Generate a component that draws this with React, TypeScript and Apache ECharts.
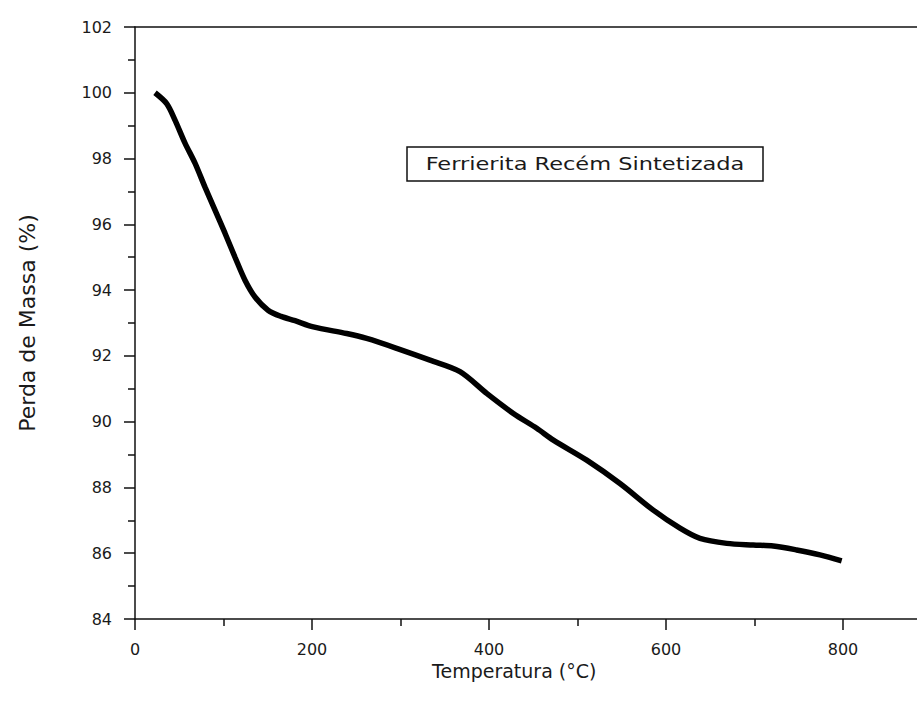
import React, { useEffect, useRef } from "react";
import * as echarts from "echarts";

const temperature = [22.6, 35.8, 45.2, 56.5, 67.8, 79.1, 90.4, 101.7, 113, 124.3, 135.6, 150.3, 165, 180.8, 201.5, 239.2, 261.8, 295.7, 333.3, 367.2, 397.4, 427.5, 453.9, 472.7, 510.4, 548, 585.6, 615.8, 638.4, 668.6, 698.6, 721.2, 747.6, 774, 798.5];
const massLoss = [100.0, 99.67, 99.17, 98.47, 97.86, 97.13, 96.43, 95.73, 95.0, 94.3, 93.79, 93.39, 93.2, 93.07, 92.88, 92.68, 92.53, 92.23, 91.87, 91.52, 90.86, 90.25, 89.8, 89.44, 88.83, 88.12, 87.31, 86.76, 86.45, 86.3, 86.25, 86.22, 86.1, 85.95, 85.77];
const xTicks = [0, 200, 400, 600, 800];
const yTicks = [84, 86, 88, 90, 92, 94, 96, 98, 100, 102];
const annotation = "Ferrierita Recém Sintetizada";
const xTitle = "Temperatura (°C)";
const yTitle = "Perda de Massa (%)";

export default function App() {
  const ref = useRef<HTMLDivElement>(null);
  useEffect(() => {
    if (!ref.current) return;
    const chart = echarts.init(ref.current, null, { renderer: "svg" });
    const axisColor = "#111";
    const labelStyle = { color: "#1a1a1a", fontFamily: "DejaVu Sans", fontSize: 16 };
    chart.setOption({
      animation: false,
      backgroundColor: "#fff",
      grid: { left: 135, top: 27, width: 796.5, height: 592, outerBoundsMode: "none", containLabel: false },
      xAxis: [
        {
          type: "value",
          min: 0,
          max: 900,
          interval: 200,
          position: "bottom",
          axisLine: { show: true, lineStyle: { color: axisColor, width: 1.5 } },
          axisTick: { show: true, length: 11, lineStyle: { color: axisColor, width: 1.5 } },
          minorTick: { show: true, splitNumber: 2, length: 7, lineStyle: { color: axisColor, width: 1.5 } },
          splitLine: { show: false },
          axisLabel: {
            ...labelStyle,
            margin: 22,
            formatter: (v: number) => (xTicks.includes(v) ? String(v) : ""),
          },
          name: xTitle,
          nameLocation: "middle",
          nameGap: 42,
          nameTextStyle: { color: "#1a1a1a", fontFamily: "DejaVu Sans", fontSize: 19, padding: [0, 38, 0, 0] },
        },
        {
          type: "value",
          min: 0,
          max: 900,
          position: "top",
          axisLine: { show: true, lineStyle: { color: axisColor, width: 1.5 } },
          axisTick: { show: false },
          axisLabel: { show: false },
          splitLine: { show: false },
        },
      ],
      yAxis: {
        type: "value",
        min: 84,
        max: 102,
        interval: 2,
        axisLine: { show: true, lineStyle: { color: axisColor, width: 1.5 } },
        axisTick: { show: true, length: 11, lineStyle: { color: axisColor, width: 1.5 } },
        minorTick: { show: true, splitNumber: 2, length: 7, lineStyle: { color: axisColor, width: 1.5 } },
        splitLine: { show: false },
        axisLabel: {
          ...labelStyle,
          margin: 23,
          formatter: (v: number) => (yTicks.includes(v) ? String(v) : ""),
        },
        name: yTitle,
        nameLocation: "middle",
        nameGap: 97,
        nameTextStyle: { color: "#1a1a1a", fontFamily: "DejaVu Sans", fontSize: 22 },
      },
      series: [
        {
          type: "line",
          data: temperature.map((t, i) => [t, massLoss[i]]),
          showSymbol: false,
          smooth: 0.3,
          lineStyle: { color: "#000", width: 5.5 },
        },
      ],
      graphic: [
        {
          type: "rect",
          shape: { x: 407, y: 147, width: 356, height: 34 },
          style: { fill: "#fff", stroke: "#111", lineWidth: 1.5 },
        },
        {
          type: "text",
          x: 585,
          y: 164,
          scaleX: 1.25,
          style: {
            text: annotation,
            fontFamily: "DejaVu Sans",
            fontSize: 18,
            fill: "#1a1a1a",
            align: "center",
            verticalAlign: "middle",
          },
        },
      ],
    });
    return () => chart.dispose();
  }, []);
  return (
    <div
      ref={ref}
      style={{ position: "absolute", left: 0, top: 0, width: 917, height: 711 }}
    />
  );
}
